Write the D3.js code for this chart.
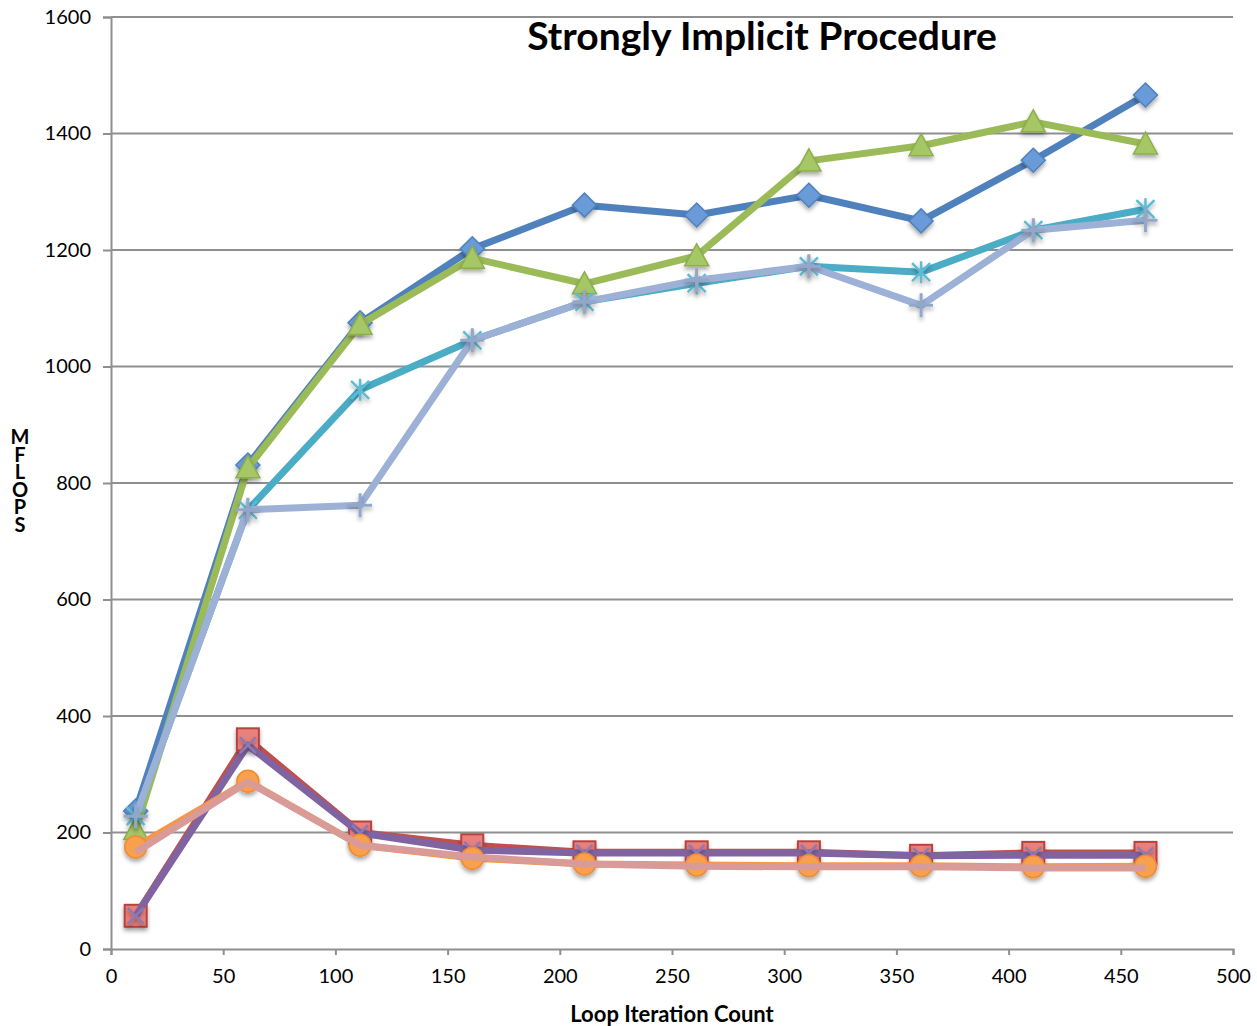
<!DOCTYPE html>
<html>
<head>
<meta charset="utf-8">
<script src="https://cdn.jsdelivr.net/npm/d3@7"></script>
<style>
  html, body { margin: 0; padding: 0; background: #fff; }
  #wrap { position: relative; width: 1257px; height: 1026px; }
  svg { display: block; font-family: Lato, "Open Sans", sans-serif; }
  #ytitle {
    position: absolute; left: 10px; top: 428px; width: 20px;
    font-family: Lato, "Open Sans", sans-serif; font-weight: bold; font-size: 20px;
    line-height: 17.5px; text-align: center; word-break: break-all; color: #000;
  }
</style>
</head>
<body>
<div id="wrap">
<svg id="chart" width="1257" height="1026"></svg>
<div id="ytitle"></div>
</div>
<script>
// Loop iteration counts (x) and MFLOPS for each configuration
const iterations = [11, 61, 111, 161, 211, 261, 311, 361, 411, 461];

const seriesDiamond  = [237, 831, 1075, 1202, 1277, 1260, 1294, 1250, 1354, 1466];
const seriesSquare   = [57, 360, 200, 178, 166, 166, 166, 160, 165, 165];
const seriesTriangle = [205, 826, 1072, 1186, 1142, 1190, 1353, 1379, 1420, 1382];
const seriesCross    = [57, 350, 199, 170, 165, 165, 165, 160, 161, 161];
const seriesStar     = [228, 754, 960, 1045, 1111, 1143, 1172, 1162, 1234, 1270];
const seriesCircle   = [175, 288, 178, 156, 146, 144, 143, 143, 141, 142];
const seriesPlus     = [228, 754, 762, 1045, 1111, 1148, 1172, 1105, 1234, 1251];
const seriesDash     = [166, 287, 178, 158, 146, 142, 141, 141, 139, 139];

const xTicks = [0, 50, 100, 150, 200, 250, 300, 350, 400, 450, 500];
const yTicks = [0, 200, 400, 600, 800, 1000, 1200, 1400, 1600];

const titleText = "Strongly Implicit Procedure";
const xTitle = "Loop Iteration Count";
const yTitle = "MFLOPS";

const series = [
  { values: seriesDiamond,  line: "#4F81BD", fill: "#6A9BD8", edge: "#4F81BD", marker: "diamond" },
  { values: seriesSquare,   line: "#C0504D", fill: "#E8807C", edge: "#B8433F", marker: "square" },
  { values: seriesTriangle, line: "#9BBB59", fill: "#A6C766", edge: "#8DAE4C", marker: "triangle" },
  { values: seriesCross,    line: "#8064A2", fill: "none",    edge: "#8F78B2", marker: "x" },
  { values: seriesStar,     line: "#4BACC6", fill: "none",    edge: "#5DBCD4", marker: "star" },
  { values: seriesCircle,   line: "#F79646", fill: "#F9A04E", edge: "#EE8B35", marker: "circle" },
  { values: seriesPlus,     line: "#9DB1D6", fill: "none",    edge: "#92A7CC", marker: "plus" },
  { values: seriesDash,     line: "#D99B98", fill: "none",    edge: "#C48784", marker: "dash" }
];

const svg = d3.select("#chart");
const margin = { left: 111, right: 24, top: 17, bottom: 77 };
const W = 1257, H = 1026;

const x = d3.scaleLinear().domain([0, 500]).range([margin.left, W - margin.right]);
const y = d3.scaleLinear().domain([0, 1600]).range([H - margin.bottom, margin.top]);

// Soft drop shadow under markers
const defs = svg.append("defs");
const shadow = defs.append("filter").attr("id", "shadow")
  .attr("x", "-50%").attr("y", "-50%").attr("width", "200%").attr("height", "200%");
shadow.append("feDropShadow").attr("dx", 0).attr("dy", 3).attr("stdDeviation", 2)
  .attr("flood-color", "#000").attr("flood-opacity", 0.35);

// Horizontal gridlines
svg.append("g")
  .selectAll("line")
  .data(yTicks.filter(d => d > 0))
  .join("line")
  .attr("x1", x(0)).attr("x2", x(500))
  .attr("y1", d => y(d)).attr("y2", d => y(d))
  .attr("stroke", "#8f8f8f").attr("stroke-width", 2);

// Y axis
const yAxis = svg.append("g")
  .attr("transform", `translate(${x(0)},0)`)
  .call(d3.axisLeft(y).tickValues(yTicks).tickSize(8).tickPadding(12).tickFormat(d3.format("d")));
yAxis.select(".domain").attr("stroke", "#8f8f8f").attr("stroke-width", 2);
yAxis.selectAll(".tick line").attr("stroke", "#8f8f8f").attr("stroke-width", 2);
yAxis.selectAll(".tick text").attr("font-size", 20).attr("fill", "#000")
  .attr("font-family", "Lato, 'Open Sans', sans-serif");

// X axis
const xAxis = svg.append("g")
  .attr("transform", `translate(0,${y(0)})`)
  .call(d3.axisBottom(x).tickValues(xTicks).tickSize(6).tickPadding(14).tickFormat(d3.format("d")));
xAxis.select(".domain").attr("stroke", "#8f8f8f").attr("stroke-width", 2);
xAxis.selectAll(".tick line").attr("stroke", "#8f8f8f").attr("stroke-width", 2);
xAxis.selectAll(".tick text").attr("font-size", 20).attr("fill", "#000")
  .attr("font-family", "Lato, 'Open Sans', sans-serif");

// Title
svg.append("text")
  .attr("x", 762).attr("y", 50)
  .attr("text-anchor", "middle")
  .attr("font-size", 39).attr("font-weight", "bold")
  .text(titleText);

// X axis title
svg.append("text")
  .attr("x", 672).attr("y", 1022)
  .attr("text-anchor", "middle")
  .attr("font-size", 22).attr("font-weight", "bold")
  .text(xTitle);

// Y axis title, letters stacked vertically
d3.select("#ytitle").text(yTitle);

const lineGen = d3.line()
  .x((d, i) => x(iterations[i]))
  .y(d => y(d));

const plot = svg.append("g");

function drawMarker(g, s, cx, cy) {
  const m = g.append("g").attr("transform", `translate(${cx},${cy})`).attr("filter", "url(#shadow)");
  switch (s.marker) {
    case "diamond":
      m.append("path").attr("d", "M0,-12 L12,0 L0,12 L-12,0 Z")
        .attr("fill", s.fill).attr("stroke", s.edge).attr("stroke-width", 1.5);
      break;
    case "square":
      m.append("rect").attr("x", -11).attr("y", -11).attr("width", 22).attr("height", 22)
        .attr("fill", s.fill).attr("stroke", s.edge).attr("stroke-width", 2);
      break;
    case "triangle":
      m.append("path").attr("d", "M0,-12 L12,10 L-12,10 Z")
        .attr("fill", s.fill).attr("stroke", s.edge).attr("stroke-width", 1.5);
      break;
    case "circle":
      m.append("circle").attr("r", 11)
        .attr("fill", s.fill).attr("stroke", s.edge).attr("stroke-width", 1.5);
      break;
    case "x":
      m.append("path").attr("d", "M-8,-8 L8,8 M8,-8 L-8,8")
        .attr("stroke", s.edge).attr("stroke-width", 2.5).attr("fill", "none");
      break;
    case "star":
      m.append("path").attr("d", "M-9,-9 L9,9 M9,-9 L-9,9 M0,-11 L0,11")
        .attr("stroke", s.edge).attr("stroke-width", 2.5).attr("fill", "none");
      break;
    case "plus":
      m.append("path").attr("d", "M0,-12 L0,12 M-12,0 L12,0")
        .attr("stroke", s.edge).attr("stroke-width", 3).attr("fill", "none");
      break;
    case "dash":
      m.append("path").attr("d", "M-7,0 L7,0")
        .attr("stroke", s.edge).attr("stroke-width", 2).attr("fill", "none");
      break;
  }
}

series.forEach(s => {
  const g = plot.append("g");
  g.append("path")
    .datum(s.values)
    .attr("d", lineGen)
    .attr("fill", "none")
    .attr("stroke", s.line)
    .attr("stroke-width", 7)
    .attr("stroke-linejoin", "round");
  s.values.forEach((v, i) => drawMarker(g, s, x(iterations[i]), y(v)));
});
</script>
</body>
</html>
